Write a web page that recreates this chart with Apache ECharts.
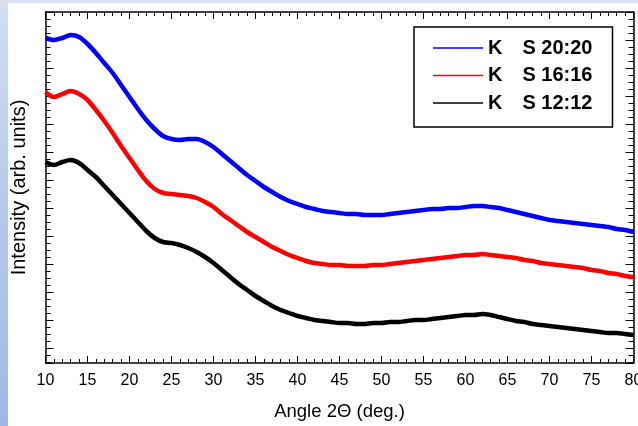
<!DOCTYPE html>
<html><head><meta charset="utf-8">
<script src="https://cdn.jsdelivr.net/npm/echarts@6/dist/echarts.min.js"></script>
<style>
html,body{margin:0;padding:0;}
body{width:638px;height:426px;position:relative;overflow:hidden;
 background:linear-gradient(180deg,#d3def1 0%,#b4c9ea 50%,#9dbae5 100%);}
#white{position:absolute;left:8px;top:3px;width:630px;height:423px;background:#fff;}
#top{position:absolute;left:8px;top:0;width:630px;height:3px;background:#dce5f4;}
#chart{position:absolute;left:0;top:0;width:638px;height:426px;}
</style></head>
<body><div id="top"></div><div id="white"></div><div id="chart"></div>
<script>
// Angle 2Θ (deg.)
const angles = [10,11,12,13,14,15,16,17,18,19,20,21,22,23,24,25,26,27,28,29,30,31,32,33,34,35,36,37,38,39,40,41,42,43,44,45,46,47,48,49,50,51,52,53,54,55,56,57,58,59,60,61,62,63,64,65,66,67,68,69,70,71,72,73,74,75,76,77,78,79,80];
// Intensity (arb. units)
const ks2020 = [325,323,325,328,326,319,310,300,290,278,266,254,243,234,227,224,223,224,224,221,216,209,202,195,188,182,176,171,166,162,159,156,154,152,151,150,149,149,148,148,148,149,150,151,152,153,154,154,155,155,156,157,157,156,155,153,151,149,147,145,143,142,141,140,139,138,137,136,134,133,131];
const ks1616 = [271,266,269,272,269,263,253,242,230,217,205,193,182,174,170,169,168,167,165,161,156,149,143,137,131,126,121,116,112,108,105,102,100,99,98,98,97,97,97,98,98,99,100,101,102,103,104,105,106,107,108,108,109,108,107,106,105,103,102,100,99,98,97,96,95,93,92,90,89,87,86];
const ks1212 = [201,198,201,203,200,193,186,177,168,159,150,141,132,125,121,120,118,115,111,106,100,93,86,79,73,67,62,57,53,50,47,45,43,42,41,40,40,39,39,40,40,41,41,42,43,43,44,45,46,47,48,48,49,48,46,44,42,41,39,38,37,36,35,34,33,32,31,30,30,29,28];
const seriesNames = ['K\u2003S 20:20','K\u2003S 16:16','K\u2003S 12:12'];
const xTicks = {min:10, max:80, interval:5};

const font = 'Arial, "Liberation Sans", sans-serif';
const chart = echarts.init(document.getElementById('chart'), null, {renderer:'canvas'});
function pairs(vals){ return angles.map((a,i)=>[a, vals[i]]); }
const axLine = {show:true, lineStyle:{color:'#000', width:1.5}};
const tickAxis = (pos)=>({
  type:'value', position:pos, min:0, max:12.54, interval:1, inverse:true,
  axisLine:axLine, axisLabel:{show:false}, splitLine:{show:false},
  axisTick:{show:true, inside:true, length:8, lineStyle:{color:'#000', width:1}},
  minorTick:{show:true, splitNumber:4, length:5, lineStyle:{color:'#000', width:1}}
});
const colors = ['#0000ff','#ff0000','#000000'];
chart.setOption({
  animation:false,
  grid:{left:45.5, top:12, width:588, height:351, containLabel:false, outerBoundsMode:'none'},
  xAxis:[
    {type:'value', position:'bottom', min:xTicks.min, max:xTicks.max, interval:xTicks.interval,
     name:'Angle 2\u0398 (deg.)', nameLocation:'middle', nameGap:39,
     nameTextStyle:{fontFamily:font, fontSize:18.5, color:'#000'},
     axisLine:axLine, splitLine:{show:false},
     axisLabel:{fontFamily:font, fontSize:16, color:'#000', margin:10},
     axisTick:{show:true, inside:true, length:7, lineStyle:{color:'#000', width:1}},
     minorTick:{show:true, splitNumber:5, length:4, lineStyle:{color:'#000', width:1}}},
    {type:'value', position:'top', min:xTicks.min, max:xTicks.max, interval:xTicks.interval,
     axisLine:axLine, splitLine:{show:false}, axisLabel:{show:false},
     axisTick:{show:true, inside:true, length:7, lineStyle:{color:'#000', width:1}},
     minorTick:{show:true, splitNumber:5, length:4, lineStyle:{color:'#000', width:1}}}
  ],
  yAxis:[
    {type:'value', min:0, max:351, show:false},
    Object.assign(tickAxis('left'), {name:'Intensity (arb. units)', nameLocation:'middle', nameGap:16,
      nameTextStyle:{fontFamily:font, fontSize:20, color:'#000'}}),
    tickAxis('right')
  ],
  legend:{
    orient:'vertical', left:414, top:27, padding:[11,20,14,19],
    borderColor:'#000', borderWidth:1.5, backgroundColor:'#fff',
    icon:'rect', itemWidth:50, itemHeight:1.5, itemGap:7.5,
    textStyle:{fontFamily:font, fontSize:20, fontWeight:'bold', color:'#000', lineHeight:20},
    data:seriesNames
  },
  series:[ks2020, ks1616, ks1212].map((v,i)=>({
    name:seriesNames[i], type:'line', xAxisIndex:0, yAxisIndex:0,
    data:pairs(v), symbol:'none', smooth:0.3,
    lineStyle:{color:colors[i], width:4.5}, itemStyle:{color:colors[i]}
  }))
});
</script></body></html>
